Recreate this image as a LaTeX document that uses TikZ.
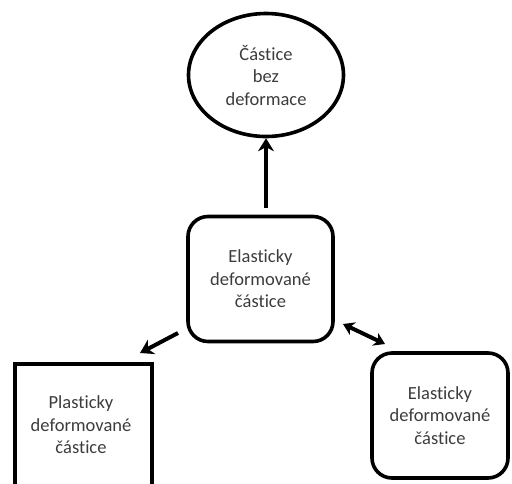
\documentclass[tikz,border=0pt]{standalone}
\usepackage{fontspec}
\setmainfont{Carlito}[Ligatures=NoCommon]
\usetikzlibrary{shapes.geometric,arrows.meta}
\definecolor{txt}{HTML}{3C3C3C}
\tikzset{
  lbl/.style={align=center,text=txt,font=\fontsize{18.5}{22.5}\selectfont},
  ell/.style={draw,line width=3.6pt,ellipse,minimum width=155pt,minimum height=123pt,inner sep=0pt,lbl},
  rbox/.style={draw,line width=3.6pt,rounded corners=20pt,lbl},
  sbox/.style={draw,line width=3.8pt,lbl},
  arr/.style={line width=4pt,-{Stealth[length=13pt,width=16pt]}},
  darr/.style={line width=4pt,{Stealth[length=11pt,width=14pt]}-{Stealth[length=11pt,width=14pt]}}
}
\begin{document}
\begin{tikzpicture}[x=1pt,y=-1pt]
\useasboundingbox (0,0) rectangle (512,483);
\node[ell] (top) at (266,75) {Částice\\bez\\deformace};
\node[rbox,minimum width=145pt,minimum height=125pt] (mid) at (260.5,279) {Elasticky\\deformované\\částice};
\node[sbox,minimum width=137pt,minimum height=150pt,anchor=north west] (pl) at (13,362) {};
\node[lbl] (pltxt) at (81,425) {Plasticky\\deformované\\částice};
\node[rbox,minimum width=136pt,minimum height=125pt] (el) at (440,415.5) {Elasticky\\deformované\\částice};
\coordinate (a1) at (266,208);
\coordinate (a2) at (178,333);
\coordinate (a3) at (140,353);
\coordinate (d1) at (343,324);
\coordinate (d2) at (385,344);
\draw[arr] (a1) -- (top.south);
\draw[arr] (a2) -- (a3);
\draw[darr] (d1) -- (d2);
\end{tikzpicture}
\end{document}
